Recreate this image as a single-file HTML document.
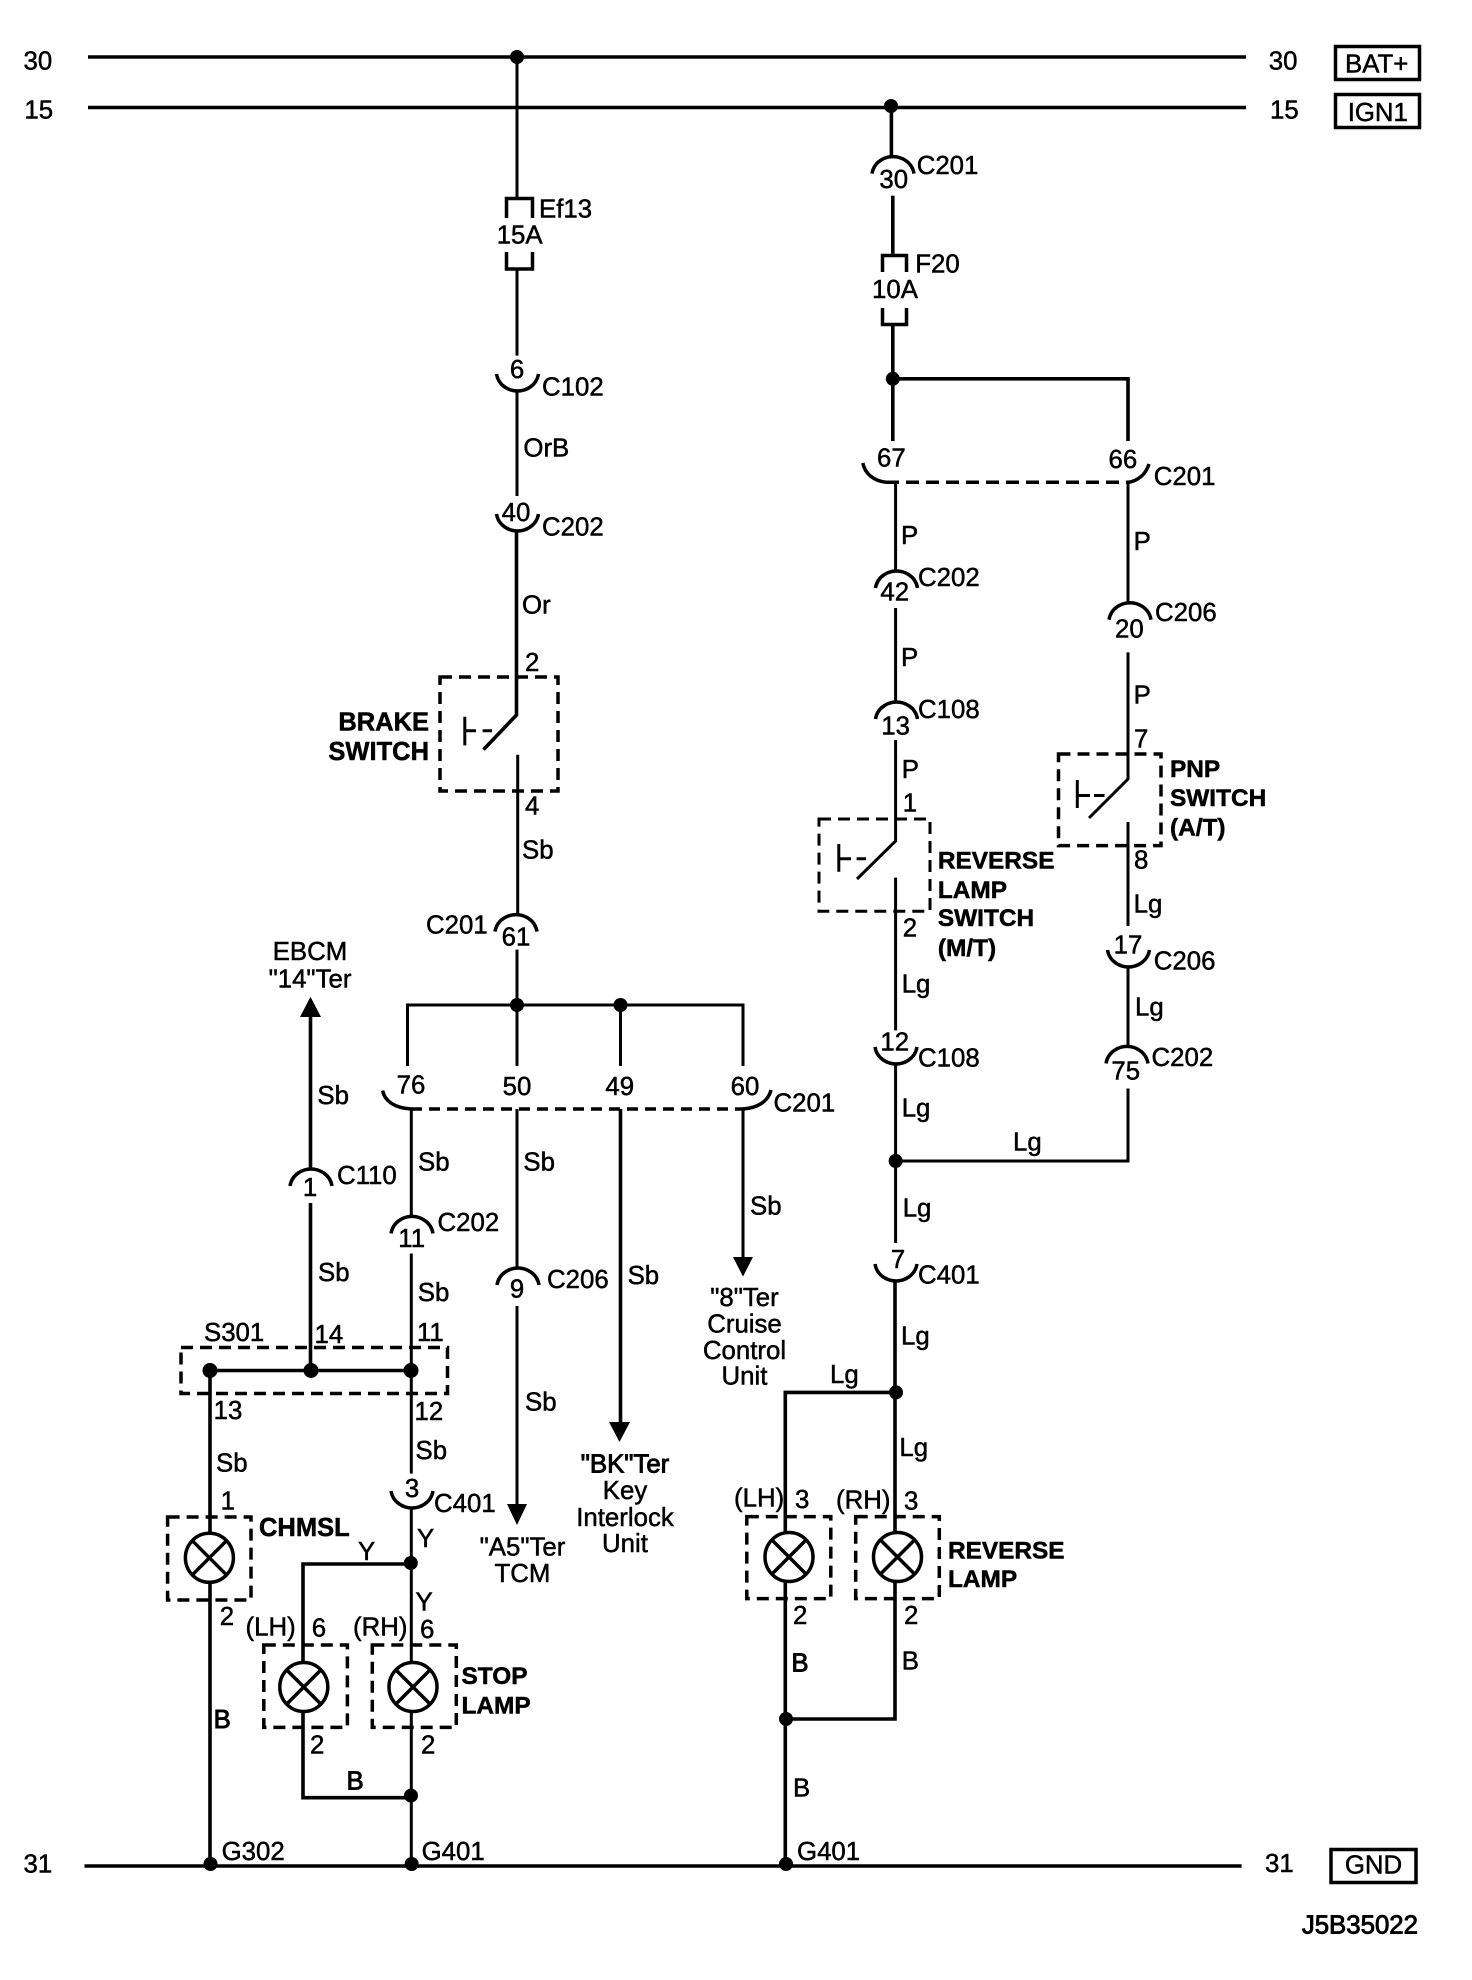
<!DOCTYPE html>
<html><head><meta charset="utf-8"><title>Wiring diagram</title>
<style>
html,body{margin:0;padding:0;background:#fff}
svg{display:block}
text{font-family:"Liberation Sans",sans-serif;font-size:25.8px;fill:#000;stroke:#000;stroke-width:.5px}
.m{text-anchor:middle}
.e{text-anchor:end}
.b{font-weight:bold;font-size:25.5px;stroke-width:.5px}
.n{font-size:24.4px}
.s{stroke-width:.9px}
.w,.t,.d,.h{fill:none;stroke:#000}
.w{stroke-width:3px}
.t{stroke-width:3.6px}
.h{stroke-width:3.5px}
.d{stroke-width:3.5px;stroke-dasharray:12 7}
</style></head><body>
<svg xmlns="http://www.w3.org/2000/svg" width="1472" height="1980" viewBox="0 0 1472 1980">
<defs>
<path id="cup" class="h" d="M-21 -17C-19 -5 -8 0 0 0C8 0 19 -5 21 -17"/>
<path id="cap" class="h" d="M-21 17C-19 5 -8 0 0 0C8 0 19 5 21 17"/>
<g id="lamp"><ellipse class="h" rx="24" ry="24.5"/><path class="h" d="M-17 -17L17 17M17 -17L-17 17"/></g>
</defs>

<!-- buses -->
<path class="h" d="M88 57H1246M88 107.500H1246"/>
<path class="h" d="M84.500 1866H1241.600"/>
<rect x="1335.500" y="46.500" width="84" height="33" class="h" stroke-width="4"/>
<rect x="1335.500" y="94.500" width="84" height="33" class="h" stroke-width="4"/>
<rect x="1331" y="1849.500" width="85" height="33" class="h" stroke-width="4"/>
<text x="23.500" y="69.400">30</text><text x="24.400" y="118.700">15</text><text x="23.500" y="1872.600">31</text>
<text x="1268.800" y="69.400">30</text><text x="1270" y="118.700">15</text><text x="1265" y="1872">31</text>
<text x="1345" y="72.400">BAT+</text><text x="1347.700" y="120.800">IGN1</text><text class="m" x="1373.500" y="1873.500">GND</text>
<text class="e s" x="1418" y="1933.600">J5B35022</text>

<!-- center-left: Ef13 chain -->
<circle cx="517" cy="57" r="7"/>
<path class="w" d="M517 57V197"/>
<path class="h" d="M506.500 218V198.500H532.500V218M506.500 252V269H532.500V252"/>
<text x="539" y="217.600">Ef13</text><text x="496.700" y="243.300">15A</text>
<path class="w" d="M517 270V355.600M517 391V496"/>
<use href="#cup" x="517.500" y="391"/>
<text class="m" x="517" y="378">6</text><text x="542" y="395.600">C102</text>
<text x="523.400" y="456.700">OrB</text>
<use href="#cup" x="517.500" y="531"/>
<text class="m" x="516" y="521">40</text><text x="542" y="535.400">C202</text>
<path class="t" d="M516.500 531V715L483.500 749.600"/>
<text x="522" y="613.600">Or</text><text x="525" y="671">2</text>
<rect class="d" x="440" y="677" width="118" height="114"/>
<path class="w" d="M464.800 716.800V745.400M465 730.700H476M482.600 730.700H492"/>
<text class="e b" x="429" y="730.700">BRAKE</text><text class="e b" x="429" y="760">SWITCH</text>
<path class="w" d="M517.700 754.700V914.600"/>
<text x="525" y="814.500">4</text><text x="522" y="858.700">Sb</text>
<use href="#cap" x="516" y="914.600"/>
<text class="m" x="516" y="945.400">61</text><text x="426" y="933.600">C201</text>
<path class="w" d="M517 949.600V1066M407.500 1066V1005H743V1066M620.500 1005V1066"/>
<circle cx="517" cy="1005" r="7"/><circle cx="620.500" cy="1005" r="7"/>
<text class="m" x="411" y="1093.500">76</text><text class="m" x="517" y="1094.800">50</text><text class="m" x="619.700" y="1094.800">49</text><text class="m" x="745" y="1094.800">60</text>
<path class="d" d="M411 1109H745" style="stroke-dasharray:11 7"/>
<path class="h" d="M382.600 1090.600C385 1102 396 1108 411 1109M771 1090C768 1102 757 1108 743 1109"/>
<text x="773.500" y="1111.600">C201</text>

<!-- EBCM -->
<text class="m" x="310" y="960">EBCM</text><text class="m" x="310" y="987.500">"14"Ter</text>
<polygon points="310.500,996.700 300,1017 321,1017"/>
<path class="t" d="M310.500 1016V1169"/>
<text x="317.400" y="1104">Sb</text>
<use href="#cap" x="311" y="1169"/>
<text class="m" x="310" y="1196">1</text><text x="337" y="1184">C110</text>
<path class="t" d="M310.500 1203V1370.500"/>
<text x="318" y="1281">Sb</text>

<!-- 76 line -->
<path class="w" d="M411.300 1109V1216"/>
<text x="418" y="1170.500">Sb</text>
<use href="#cap" x="412" y="1216.400"/>
<text class="m" x="411.700" y="1247">11</text><text x="437.500" y="1231">C202</text>
<path class="w" d="M411.300 1253.500V1370.500"/>
<text x="417.800" y="1301">Sb</text>

<!-- 50 line -->
<path class="w" d="M517 1109V1268"/>
<text x="523.400" y="1170.500">Sb</text>
<use href="#cap" x="518" y="1268"/>
<text class="m" x="517" y="1297.600">9</text><text x="547" y="1288">C206</text>
<path class="w" d="M517 1306V1506"/>
<polygon points="507,1504 527,1504 517,1525"/>
<text x="525" y="1410.500">Sb</text>
<text class="m" x="522.500" y="1555.700">"A5"Ter</text><text class="m" x="522.500" y="1581.800">TCM</text>

<!-- 49 line -->
<path class="t" d="M620.500 1109V1424"/>
<polygon points="609,1422 630,1422 619.500,1442"/>
<text x="627.600" y="1284">Sb</text>
<text class="m s" x="625" y="1472.400">"BK"Ter</text><text class="m" x="625" y="1499">Key</text><text class="m" x="625" y="1526">Interlock</text><text class="m" x="625" y="1552">Unit</text>

<!-- 60 line -->
<path class="w" d="M743 1109V1259"/>
<polygon points="733,1257 753,1257 743,1276.600"/>
<text x="750" y="1214.300">Sb</text>
<text class="m" x="744.500" y="1306">"8"Ter</text><text class="m" x="744.500" y="1332.500">Cruise</text><text class="m" x="744.500" y="1359">Control</text><text class="m" x="744.500" y="1384.500">Unit</text>

<!-- S301 -->
<text x="204" y="1341">S301</text><text x="314.500" y="1343">14</text><text x="417" y="1341">11</text>
<rect class="d" x="181" y="1347.500" width="266.500" height="46"/>
<path class="h" d="M210 1370.500H411"/>
<circle cx="210" cy="1370.500" r="7.500"/><circle cx="311" cy="1370.500" r="7.500"/><circle cx="411" cy="1370.500" r="7.500"/>

<!-- CHMSL -->
<path class="t" d="M210 1370.500V1534M210 1582V1866"/>
<text x="213.600" y="1419">13</text><text x="216" y="1471.500">Sb</text><text x="220.600" y="1509.400">1</text>
<rect class="d" x="167.600" y="1517" width="83.400" height="83"/>
<use href="#lamp" x="209.400" y="1557.800"/>
<text class="b" x="259" y="1536">CHMSL</text>
<text x="219.700" y="1625">2</text><text class="s" x="213.600" y="1728">B</text>

<!-- stop lamps -->
<path class="w" d="M411.300 1370.500V1473.600"/>
<text x="414.500" y="1420">12</text><text x="415.500" y="1459">Sb</text>
<use href="#cup" x="412" y="1508"/>
<text class="m" x="412" y="1497">3</text><text x="434" y="1512">C401</text>
<path class="w" d="M411.300 1508V1663M411.300 1711V1866"/>
<text x="417" y="1547">Y</text><text x="358" y="1560">Y</text><text x="415.500" y="1610.400">Y</text>
<path class="t" d="M411 1564H303V1663"/>
<circle cx="410.800" cy="1563" r="7"/>
<text x="245.500" y="1635.700">(LH)</text><text x="311.700" y="1636.500">6</text><text x="353" y="1635.700">(RH)</text><text x="420" y="1637.800">6</text>
<rect class="d" x="263.800" y="1645" width="83.600" height="82.400"/>
<rect class="d" x="372.300" y="1645" width="84" height="82.400"/>
<use href="#lamp" x="303.800" y="1687"/><use href="#lamp" x="413" y="1687"/>
<path class="t" d="M303 1711V1797.700H411"/>
<circle cx="411" cy="1795.600" r="7"/>
<text x="310" y="1753.500">2</text><text x="421" y="1753.500">2</text><text class="s" x="346.500" y="1789.300">B</text>
<text class="b n" x="461.500" y="1684">STOP</text><text class="b n" x="461.500" y="1713.500">LAMP</text>
<text x="221.600" y="1860">G302</text><text x="421.600" y="1860">G401</text>
<circle cx="210.500" cy="1864" r="7"/><circle cx="411.700" cy="1864" r="7"/>

<!-- right chain -->
<circle cx="891" cy="106" r="7"/>
<path class="t" d="M891.400 107V156.600"/>
<use href="#cap" x="893" y="156.600"/>
<text class="m" x="893.700" y="188">30</text><text x="916.700" y="173.800">C201</text>
<path class="t" d="M892.800 195.700V253.800"/>
<path class="h" d="M882.500 272V255.500H906.500V272M882.500 308V324.500H906.500V308"/>
<text x="915.300" y="272.700">F20</text><text x="872" y="298">10A</text>
<path class="t" d="M892.800 326V441M892.800 378.800H1128V441"/>
<circle cx="892.800" cy="378.800" r="7"/>
<text class="m" x="891.400" y="466.300">67</text><text class="m" x="1122.900" y="468">66</text>
<path class="d" d="M886 482.300H1128" style="stroke-dasharray:13 7"/>
<path class="h" d="M862.800 463C865 474 874 481 886 482.300M1149 464C1146 474 1138 481 1128 482.300"/>
<text x="1153.800" y="484.800">C201</text>

<path class="w" d="M895.600 482V571"/>
<text x="901" y="543.800">P</text>
<use href="#cap" x="896.500" y="571"/>
<text class="m" x="894.700" y="600.600">42</text><text x="918" y="586">C202</text>
<path class="w" d="M895.600 608V702"/>
<text x="901" y="666">P</text>
<use href="#cap" x="896.500" y="702"/>
<text class="m" x="895.600" y="734.500">13</text><text x="918" y="718">C108</text>
<path class="w" d="M895.600 740V841L857 879"/>
<text x="901.700" y="777.800">P</text><text x="902.700" y="811.500">1</text>
<rect class="d" x="819" y="819" width="111" height="92.300" style="stroke-width:3"/>
<path class="w" d="M838.800 844V871.700M838.800 858.700H851M856.600 858.700H866"/>
<text class="b n" x="937.900" y="868.300">REVERSE</text><text class="b n" x="937.900" y="897.800">LAMP</text><text class="b n" x="937.900" y="926">SWITCH</text><text class="b n" x="937.900" y="956">(M/T)</text>
<path class="w" d="M895.600 877.600V1030.400"/>
<text x="902.700" y="936.500">2</text><text x="901.700" y="992.500">Lg</text>
<use href="#cup" x="896" y="1064"/>
<text class="m" x="894.700" y="1050.600">12</text><text x="918" y="1066.600">C108</text>
<path class="w" d="M895.600 1064V1243"/>
<text x="901.700" y="1116.700">Lg</text>
<circle cx="895.600" cy="1161" r="7"/>
<path class="w" d="M895.600 1161H1128V1088.500"/>
<text x="1013" y="1150.300">Lg</text>
<text x="902.700" y="1216.400">Lg</text>
<use href="#cup" x="896" y="1281"/>
<text class="m" x="898" y="1268">7</text><text x="918" y="1283.700">C401</text>

<!-- PNP branch -->
<path class="w" d="M1128 482V603"/>
<text x="1133.600" y="550">P</text>
<use href="#cap" x="1130" y="602.700"/>
<text class="m" x="1129.400" y="637.600">20</text><text x="1155" y="620.800">C206</text>
<path class="w" d="M1128 652.400V779L1089 818"/>
<text x="1133.600" y="703.400">P</text><text x="1134" y="747.500">7</text>
<rect class="d" x="1058.500" y="754" width="102.500" height="91.600"/>
<path class="w" d="M1077.300 780V808M1077.300 795.500H1090M1094 795.500H1104.500"/>
<text class="b n" x="1170" y="777">PNP</text><text class="b n" x="1170" y="806">SWITCH</text><text class="b n" x="1170" y="835.500">(A/T)</text>
<path class="w" d="M1128 822V926"/>
<text x="1134" y="868.300">8</text><text x="1133.600" y="912.500">Lg</text>
<use href="#cup" x="1128.500" y="967"/>
<text class="m" x="1128" y="953.400">17</text><text x="1153.800" y="969.400">C206</text>
<path class="w" d="M1128 967V1046.400"/>
<text x="1135" y="1015.600">Lg</text>
<use href="#cap" x="1127" y="1046.400"/>
<text class="m" x="1125.700" y="1079.600">75</text><text x="1151.500" y="1066">C202</text>

<!-- reverse lamps -->
<path class="t" d="M895 1281V1533M895 1392.400H785.300V1533"/>
<circle cx="896" cy="1392.400" r="7"/>
<text x="901" y="1344.400">Lg</text><text x="830" y="1383">Lg</text><text x="899.400" y="1456">Lg</text>
<text x="734" y="1506.500">(LH)</text><text x="795" y="1508">3</text><text x="836" y="1508.500">(RH)</text><text x="904" y="1509.400">3</text>
<rect class="d" x="746.800" y="1516.600" width="84" height="82"/>
<rect class="d" x="855.700" y="1516.600" width="83.600" height="82"/>
<use href="#lamp" x="789" y="1557"/><use href="#lamp" x="897.500" y="1557"/>
<text class="b n" x="948" y="1558.600">REVERSE</text><text class="b n" x="948" y="1587">LAMP</text>
<path class="t" d="M785.300 1582V1866M895 1582V1719H785"/>
<circle cx="786" cy="1719" r="7"/><circle cx="786" cy="1864" r="7"/>
<text x="793" y="1624">2</text><text x="904" y="1624">2</text>
<text class="s" x="791.400" y="1671.400">B</text><text x="901.700" y="1669.400">B</text><text x="793" y="1796.400">B</text>
<text x="797" y="1860">G401</text>
</svg>
</body></html>
